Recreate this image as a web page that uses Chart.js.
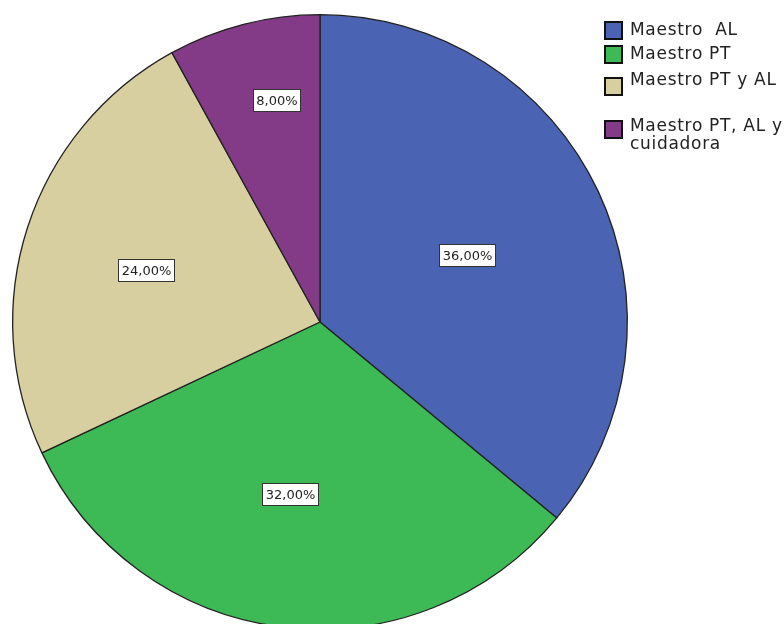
<!DOCTYPE html>
<html>
<head>
<meta charset="utf-8">
<script src="https://cdn.jsdelivr.net/npm/chart.js@4.4.1/dist/chart.umd.min.js"></script>
<style>
  html, body { margin: 0; padding: 0; background: #fff; overflow: hidden; }
  #wrap { width: 784px; height: 640px; }
</style>
</head>
<body>
<div id="wrap"><canvas id="c" width="784" height="640"></canvas></div>
<script>
const categories = ["Maestro AL", "Maestro PT", "Maestro PT y AL", "Maestro PT, AL y cuidadora"];
const legendLines = [["Maestro  AL"], ["Maestro PT"], ["Maestro PT y AL"], ["Maestro PT, AL y", "cuidadora"]];
const percentages = [36, 32, 24, 8];
const sliceColors = ["#4a63b3", "#3dba55", "#d8cfa0", "#843b87"];
const labelAngleFrac = [0.506, 0.522, 0.484, 0.616];
const labelRadiusFrac = [0.527, 0.568, 0.592, 0.737];

const labelPlugin = {
  id: 'boxLabels',
  afterDatasetsDraw(chart) {
    const ctx = chart.ctx;
    const meta = chart.getDatasetMeta(0);
    ctx.save();
    ctx.font = '13px "DejaVu Sans"';
    ctx.textAlign = 'center';
    ctx.textBaseline = 'middle';
    meta.data.forEach((arc, i) => {
      const p = arc.getProps(['x', 'y', 'startAngle', 'endAngle', 'outerRadius'], true);
      const ang = p.startAngle + (p.endAngle - p.startAngle) * labelAngleFrac[i];
      const r = p.outerRadius * labelRadiusFrac[i];
      const x = p.x + Math.cos(ang) * r;
      const y = p.y + Math.sin(ang) * r;
      const txt = percentages[i].toFixed(2).replace('.', ',') + '%';
      const w = Math.round(ctx.measureText(txt).width + 6);
      const h = 22;
      const bx = Math.round(x - w / 2) + 0.5, by = Math.round(y - h / 2) + 0.5;
      ctx.fillStyle = '#ffffff';
      ctx.fillRect(bx, by, w, h);
      ctx.strokeStyle = '#333333';
      ctx.lineWidth = 1;
      ctx.strokeRect(bx, by, w, h);
      ctx.fillStyle = '#222222';
      ctx.fillText(txt, bx + w / 2, by + h / 2 + 1);
    });
    ctx.restore();
  }
};

const legendPlugin = {
  id: 'sideLegend',
  afterDraw(chart) {
    const ctx = chart.ctx;
    const boxes = [22, 46, 78, 121];
    const textBase = [35, 59, 85, 131];
    ctx.save();
    ctx.font = '17px "DejaVu Sans"';
    try { ctx.letterSpacing = '0.7px'; } catch (e) {}
    ctx.textAlign = 'left';
    ctx.textBaseline = 'alphabetic';
    categories.forEach((c, i) => {
      ctx.fillStyle = sliceColors[i];
      ctx.fillRect(605, boxes[i], 17, 17);
      ctx.strokeStyle = '#111111';
      ctx.lineWidth = 2;
      ctx.strokeRect(605, boxes[i], 17, 17);
      ctx.fillStyle = '#222222';
      legendLines[i].forEach((line, j) => {
        ctx.fillText(line, 630, textBase[i] + j * 18);
      });
    });
    ctx.restore();
  }
};

new Chart(document.getElementById('c'), {
  type: 'pie',
  data: {
    labels: categories,
    datasets: [{
      data: percentages,
      backgroundColor: sliceColors,
      borderColor: '#222222',
      borderWidth: 1.3
    }]
  },
  options: {
    responsive: false,
    animation: false,
    layout: { padding: { left: 12, top: 14, right: 156, bottom: 10 } },
    plugins: {
      legend: { display: false },
      tooltip: { enabled: false }
    }
  },
  plugins: [labelPlugin, legendPlugin]
});
</script>
</body>
</html>
